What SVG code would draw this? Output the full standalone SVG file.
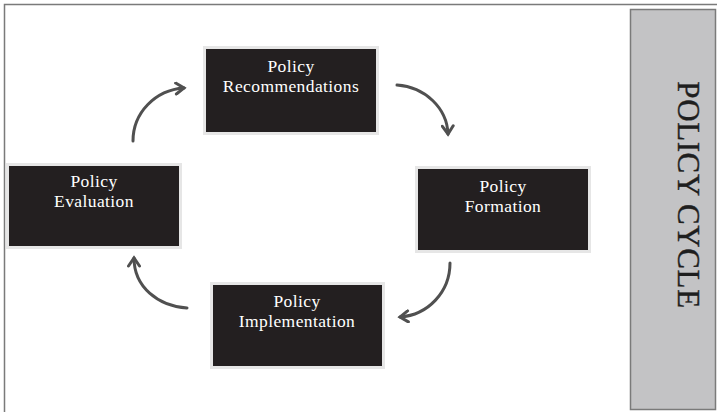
<svg xmlns="http://www.w3.org/2000/svg" width="717" height="412" viewBox="0 0 717 412">
  <defs>
    <style>
      .frame { fill: none; stroke: #7a7a7a; stroke-width: 1.5; }
      .halo { fill: #e6e6e6; }
      .box { fill: #231f20; }
      .label { fill: #ffffff; font-family: "Liberation Serif", "DejaVu Serif", serif; font-size: 17.5px; letter-spacing: 0.4px; text-anchor: middle; }
      .conn { fill: none; stroke: #505050; stroke-width: 3; stroke-linecap: round; }
      .side { fill: #c3c3c5; stroke: #7a7a7a; stroke-width: 1.5; }
      .title { fill: #1e1e1e; font-family: "Liberation Serif", "DejaVu Serif", serif; font-size: 31px; letter-spacing: 0.6px; text-anchor: middle; stroke: #1e1e1e; stroke-width: 0.4; }
    </style>
    <marker id="chev" viewBox="0 0 14 14" refX="11" refY="7" markerWidth="14" markerHeight="14" markerUnits="userSpaceOnUse" orient="auto">
      <path d="M3,1.5 L11,7 L3,12.5" fill="none" stroke="#505050" stroke-width="3" stroke-linecap="round" stroke-linejoin="miter"/>
    </marker>
  </defs>

  <rect width="717" height="412" fill="#ffffff"/>

  <!-- outer frame: top and left edges -->
  <path class="frame" d="M4.5,412 L4.5,4.5 L717,4.5"/>

  <!-- side banner -->
  <g id="banner">
    <rect class="side" x="630.5" y="9.5" width="85" height="400"/>
    <text class="title" transform="translate(678,195) rotate(90)">POLICY CYCLE</text>
  </g>

  <g id="recommendations">
    <rect class="halo" x="203" y="46" width="176" height="89"/>
    <rect class="box" x="206" y="49" width="170" height="83"/>
    <text class="label" x="291" y="72">Policy</text>
    <text class="label" x="291" y="92">Recommendations</text>
  </g>

  <g id="evaluation">
    <rect class="halo" x="6" y="163" width="176" height="86"/>
    <rect class="box" x="9" y="166" width="170" height="80"/>
    <text class="label" x="94" y="187">Policy</text>
    <text class="label" x="94" y="207">Evaluation</text>
  </g>

  <g id="formation">
    <rect class="halo" x="415" y="166" width="176" height="87"/>
    <rect class="box" x="418" y="169" width="170" height="81"/>
    <text class="label" x="503" y="192">Policy</text>
    <text class="label" x="503" y="212">Formation</text>
  </g>

  <g id="implementation">
    <rect class="halo" x="210" y="282" width="175" height="87"/>
    <rect class="box" x="213" y="285" width="169" height="81"/>
    <text class="label" x="297" y="307">Policy</text>
    <text class="label" x="297" y="327">Implementation</text>
  </g>

  <g id="connectors">
    <path class="conn" marker-end="url(#chev)" d="M133,141 C133,113 155,90 184,88"/>
    <path class="conn" marker-end="url(#chev)" d="M397,85 C425,87 447,108 448,134"/>
    <path class="conn" marker-end="url(#chev)" d="M450,263 C450,292 428,315 400,317"/>
    <path class="conn" marker-end="url(#chev)" d="M187,308 C158,306 134,287 134,258"/>
  </g>
</svg>
